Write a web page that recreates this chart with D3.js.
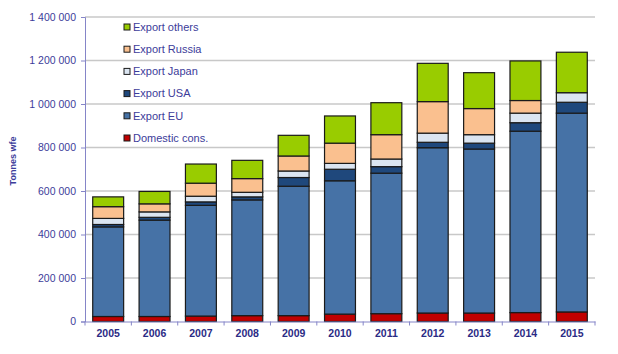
<!DOCTYPE html>
<html>
<head>
<meta charset="utf-8">
<script src="https://cdn.jsdelivr.net/npm/d3@7"></script>
<style>
  body { margin: 0; background: #fff; }
  text { font-family: "Liberation Sans", Arial, sans-serif; }
</style>
</head>
<body>
<div id="chart"></div>
<script>
// data (tonnes wfe)
const years = ['2005', '2006', '2007', '2008', '2009', '2010', '2011', '2012', '2013', '2014', '2015'];
const domestic = [23000, 23000, 25000, 27000, 27000, 34000, 36000, 39000, 39000, 41000, 44000];
const exportEU = [412000, 443000, 509000, 532000, 595000, 613000, 646000, 760000, 754000, 834000, 914000];
const exportUSA = [11000, 13000, 16000, 14000, 40000, 53000, 30000, 25000, 27000, 39000, 50000];
const exportJapan = [28000, 25000, 26000, 21000, 30000, 27000, 35000, 42000, 39000, 44000, 44000];
const exportRussia = [54000, 37000, 60000, 63000, 69000, 93000, 112000, 145000, 120000, 58000, 0];
const exportOthers = [45000, 57000, 88000, 84000, 95000, 125000, 147000, 176000, 165000, 182000, 186000];
const yTicks = [0, 200000, 400000, 600000, 800000, 1000000, 1200000, 1400000];

const series = [
    { key: 'domestic', name: 'Domestic cons.', values: domestic, color: '#c00000' },
    { key: 'eu', name: 'Export EU', values: exportEU, color: '#4672a6' },
    { key: 'usa', name: 'Export USA', values: exportUSA, color: '#1f487c' },
    { key: 'japan', name: 'Export Japan', values: exportJapan, color: '#dbe5f1' },
    { key: 'russia', name: 'Export Russia', values: exportRussia, color: '#fac08f' },
    { key: 'others', name: 'Export others', values: exportOthers, color: '#99cc00' }
];

const table = years.map((yr, i) => {
    const row = { year: yr };
    series.forEach(s => { row[s.key] = s.values[i]; });
    return row;
});

const W = 618, H = 354;
const plotLeft = 85, plotRight = 595, plotTop = 17, plotBottom = 321.5;

const svg = d3.select('#chart').append('svg')
    .attr('width', W)
    .attr('height', H);

const x = d3.scaleBand()
    .domain(years)
    .range([plotLeft, plotRight])
    .paddingInner(0.333)
    .paddingOuter(0.1665);

const y = d3.scaleLinear()
    .domain([0, 1400000])
    .range([plotBottom, plotTop]);

const axisColor = '#8585c8';
const textColor = '#3c3c9a';

// gridlines
svg.append('g')
    .selectAll('line')
    .data(yTicks.filter(d => d > 0))
    .enter().append('line')
    .attr('x1', plotLeft)
    .attr('x2', plotRight)
    .attr('y1', d => y(d))
    .attr('y2', d => y(d))
    .attr('stroke', '#c8c8c8')
    .attr('stroke-width', 1.3);

// stacked bars
const stack = d3.stack().keys(series.map(s => s.key));
const layers = stack(table);

const bars = svg.append('g');
layers.forEach((layer, li) => {
    bars.append('g')
        .selectAll('rect')
        .data(layer)
        .enter().append('rect')
        .attr('x', d => x(d.data.year))
        .attr('y', d => y(d[1]))
        .attr('width', x.bandwidth())
        .attr('height', d => y(d[0]) - y(d[1]))
        .attr('fill', series[li].color)
        .attr('stroke', '#1a1a1a')
        .attr('stroke-width', 1.2);
});

// y axis
const fmt = d3.formatLocale({ thousands: ' ', grouping: [3], decimal: ',', currency: ['', ''] }).format(',');
const yAxis = svg.append('g')
    .attr('transform', 'translate(' + plotLeft + ',0)')
    .call(d3.axisLeft(y).tickValues(yTicks).tickFormat(fmt).tickSize(4).tickPadding(5));
yAxis.select('.domain').attr('stroke', axisColor);
yAxis.selectAll('.tick line').attr('stroke', axisColor);
yAxis.selectAll('.tick text')
    .attr('fill', textColor)
    .style('font-size', '10.5px');

// x axis
const xAxis = svg.append('g')
    .attr('transform', 'translate(0,' + plotBottom + ')')
    .call(d3.axisBottom(x).tickSize(0).tickPadding(8));
xAxis.select('.domain').attr('stroke', axisColor);
xAxis.selectAll('.tick text')
    .attr('fill', '#2b2b85')
    .style('font-size', '10.5px')
    .style('font-weight', 'bold');

// ticks between categories
const step = x.step();
const bounds = years.map(d => x(d) - step * x.paddingInner() / 2).concat([plotRight]);
xAxis.selectAll('.sep')
    .data(bounds)
    .enter().append('line')
    .attr('class', 'sep')
    .attr('x1', d => d)
    .attr('x2', d => d)
    .attr('y1', 0)
    .attr('y2', 4)
    .attr('stroke', axisColor);

// y axis title
svg.append('text')
    .attr('transform', 'translate(16,161) rotate(-90)')
    .attr('text-anchor', 'middle')
    .attr('fill', textColor)
    .style('font-size', '9px')
    .style('font-weight', 'bold')
    .text('Tonnes wfe');

// legend
const legendItems = series.slice().reverse();
const legend = svg.append('g')
    .selectAll('g')
    .data(legendItems)
    .enter().append('g')
    .attr('transform', (d, i) => 'translate(124,' + (27 + i * 22.2) + ')');

legend.append('rect')
    .attr('x', 0)
    .attr('y', -3)
    .attr('width', 6)
    .attr('height', 6)
    .attr('fill', d => d.color)
    .attr('stroke', '#1a1a1a')
    .attr('stroke-width', 1);

legend.append('text')
    .attr('x', 9)
    .attr('y', 0)
    .attr('dy', '0.35em')
    .attr('fill', textColor)
    .style('font-size', '11px')
    .text(d => d.name);
</script>
</body>
</html>
